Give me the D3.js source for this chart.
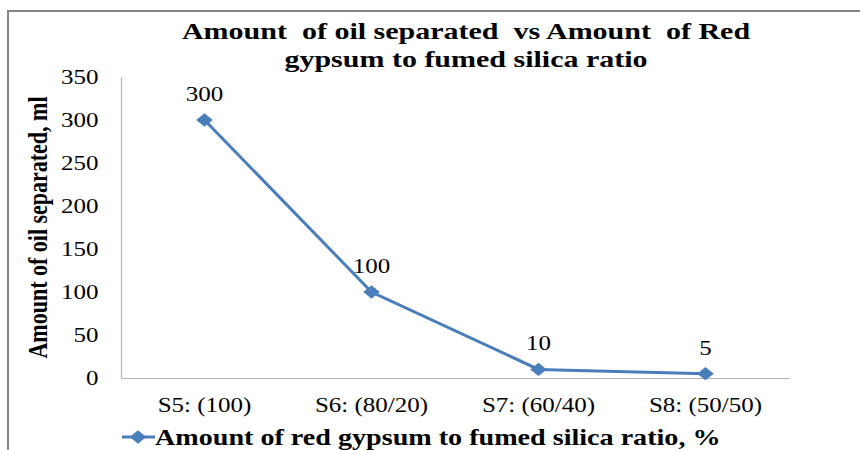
<!DOCTYPE html>
<html>
<head>
<meta charset="utf-8">
<script src="https://cdn.jsdelivr.net/npm/d3@7"></script>
<style>
  body { margin: 0; background: #fff; }
  svg { display: block; }
</style>
</head>
<body>
<svg id="chart" width="860" height="450"></svg>
<script>
const categories = ["S5: (100)", "S6: (80/20)", "S7: (60/40)", "S8: (50/50)"];
const values = [300, 100, 10, 5];
const yTicks = [0, 50, 100, 150, 200, 250, 300, 350];
const titleLines = ["Amount  of oil separated  vs Amount  of Red", "gypsum to fumed silica ratio"];
const yLabel = "Amount of oil separated, ml";
const seriesName = "Amount of red gypsum to fumed silica ratio, %";

const FONT = '"Liberation Serif", "Times New Roman", serif';
const SX = 1.25; // horizontal stretch of the reference picture

const svg = d3.select("#chart");
const W = 860, H = 450;
const plot = { left: 121, right: 789, top: 77, bottom: 378 };

svg.append("path")
  .attr("d", `M8,${H} L8,11 L${W},11`)
  .attr("fill", "none").attr("stroke", "#868686").attr("stroke-width", 2);

const x = d3.scaleBand().domain(categories).range([plot.left, plot.right]);
const y = d3.scaleLinear().domain([0, 350]).range([plot.bottom, plot.top]);

function styleText(sel, size, bold) {
  sel.style("font-family", FONT).style("font-size", size + "px")
     .style("font-weight", bold ? "bold" : "normal").attr("fill", "#000");
}

// title
svg.append("g").selectAll("text").data(titleLines).join("text")
  .attr("transform", (d, i) => `translate(466,${39 + i * 28}) scale(${SX},1)`)
  .attr("text-anchor", "middle")
  .style("white-space", "pre")
  .text(d => d)
  .call(styleText, 24, true);

// axes
const yAxis = d3.axisLeft(y).tickValues(yTicks).tickSize(0).tickPadding(18);
const gy = svg.append("g").attr("transform", `translate(${plot.left},0)`).call(yAxis);
gy.select(".domain").attr("stroke", "#b3b3b3").attr("stroke-width", 1.2);
gy.selectAll("text").attr("transform", `scale(${SX},1)`).call(styleText, 20, false);

const xAxis = d3.axisBottom(x).tickSize(0).tickPadding(20);
const gx = svg.append("g").attr("transform", `translate(0,${plot.bottom})`).call(xAxis);
gx.select(".domain").attr("stroke", "#b3b3b3").attr("stroke-width", 1.2);
gx.selectAll("text").attr("transform", `scale(${SX},1)`).call(styleText, 20, false);

// y axis label
svg.append("text")
  .attr("transform", `translate(47,${(plot.top + plot.bottom) / 2}) rotate(-90) scale(1,${SX})`)
  .attr("text-anchor", "middle")
  .text(yLabel)
  .call(styleText, 22, true);

const color = "#4a7ebb";
const cx = d => x(d.c) + x.bandwidth() / 2;
const data = categories.map((c, i) => ({ c, v: values[i] }));

svg.append("path").datum(data)
  .attr("fill", "none").attr("stroke", color).attr("stroke-width", 3)
  .attr("d", d3.line().x(cx).y(d => y(d.v)));

svg.append("g").selectAll("path").data(data).join("path")
  .attr("transform", d => `translate(${cx(d)},${y(d.v)}) scale(${SX},1) rotate(45)`)
  .attr("d", d3.symbol().type(d3.symbolSquare).size(88))
  .attr("fill", color);

// data labels
svg.append("g").selectAll("text").data(data).join("text")
  .attr("transform", d => `translate(${cx(d)},${y(d.v) - 19}) scale(${SX},1)`)
  .attr("text-anchor", "middle")
  .text(d => d.v)
  .call(styleText, 20, false);

// legend
const ly = 437;
svg.append("line").attr("x1", 122).attr("x2", 155).attr("y1", ly).attr("y2", ly)
  .attr("stroke", color).attr("stroke-width", 3);
svg.append("path").attr("transform", `translate(138,${ly}) scale(${SX},1) rotate(45)`)
  .attr("d", d3.symbol().type(d3.symbolSquare).size(88)).attr("fill", color);
svg.append("text")
  .attr("transform", `translate(155,${ly + 8}) scale(${SX},1)`)
  .text(seriesName)
  .call(styleText, 22.5, true);
</script>
</body>
</html>
